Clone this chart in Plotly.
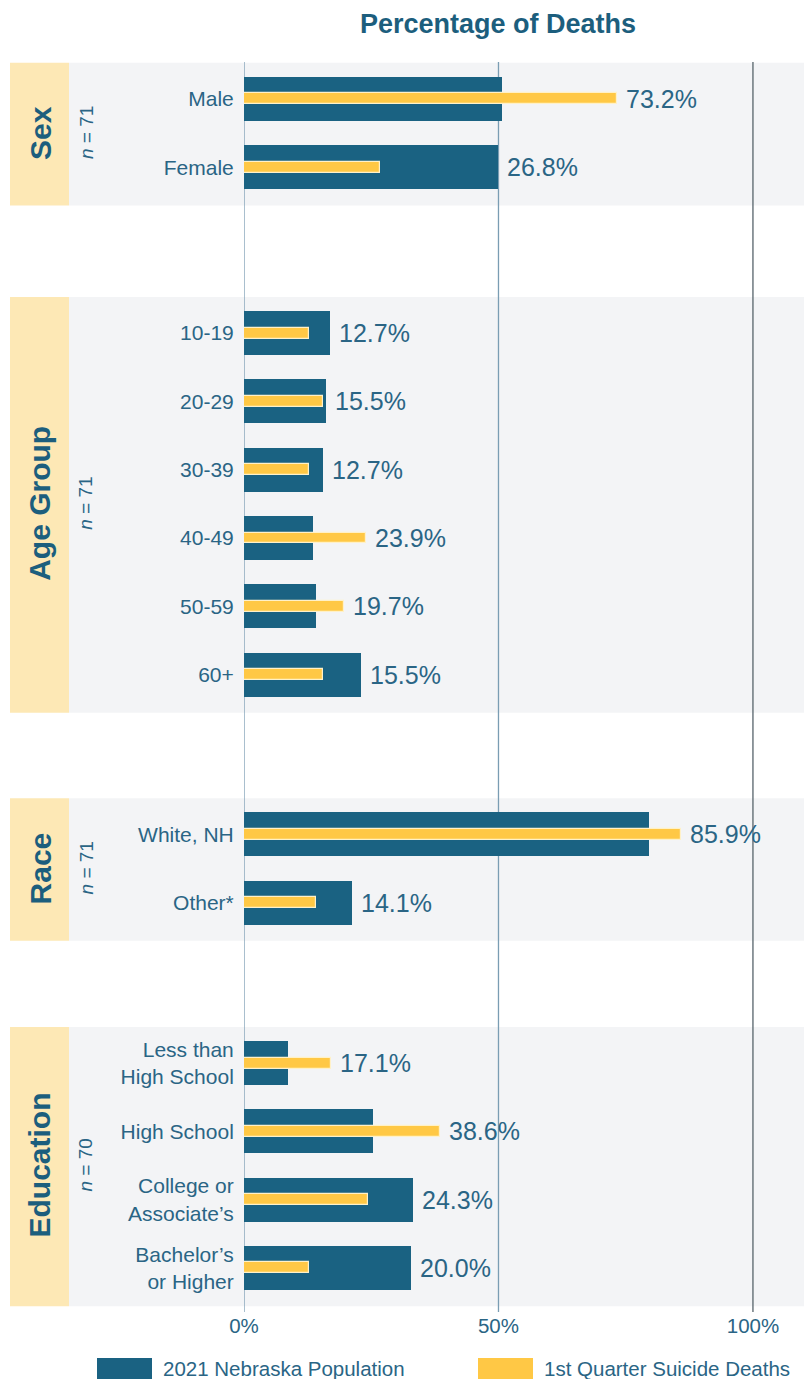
import plotly.graph_objects as go

# ---------------- data ----------------
groups = ["Sex", "Age Group", "Race", "Education"]
group_n = [71, 71, 71, 70]
categories = [
    ["Male", "Female"],
    ["10-19", "20-29", "30-39", "40-49", "50-59", "60+"],
    ["White, NH", "Other*"],
    ["Less than<br>High School", "High School", "College or<br>Associate’s", "Bachelor’s<br>or Higher"],
]
population = [
    [50.6, 49.9],
    [16.9, 16.1, 15.5, 13.6, 14.1, 23.0],
    [79.6, 21.2],
    [8.6, 25.3, 33.2, 32.8],
]
# bar lengths as drawn in the picture
deaths = [
    [73.2, 26.8],
    [12.7, 15.5, 12.7, 23.9, 19.7, 15.5],
    [85.9, 14.1],
    [17.1, 38.6, 24.3, 12.7],
]
# value labels as printed in the picture
death_labels = [
    ["73.2%", "26.8%"],
    ["12.7%", "15.5%", "12.7%", "23.9%", "19.7%", "15.5%"],
    ["85.9%", "14.1%"],
    ["17.1%", "38.6%", "24.3%", "20.0%"],
]
tick_values = [0, 50, 100]
tick_labels = ["0%", "50%", "100%"]
series_names = ["2021 Nebraska Population", "1st Quarter Suicide Deaths"]

# ---------------- style ----------------
DARK = "#1a6282"
YELLOW = "#FFC845"
YELLOW_EDGE = "#FFF1C8"
TEXT = "#2a6585"
TITLE = "#1c5e7d"
PANEL = "#F3F4F6"
LABEL_BOX = "#FDE8B5"
FONT = "Liberation Sans, Arial, sans-serif"

W, H = 804, 1379
PLOT_L, PLOT_R, PLOT_T, PLOT_B = 244, 804, 62, 1312
ML, MT = PLOT_L, PLOT_T
MR = W - PLOT_R
MB = H - PLOT_B
PW = PLOT_R - PLOT_L
PH = PLOT_B - PLOT_T
XMAX = 110.03
GAPS = [2.43, 2.34, 2.35]
PAD_TOP = 0.53
PAD_BOT = 0.56


def px_to_paper_x(px):
    return (px - ML) / PW


def px_to_paper_y(py):
    return (PLOT_B - py) / PH


# row positions from group structure
positions = []
pos = 0.0
for gi, cats in enumerate(categories):
    rows = [pos + i for i in range(len(cats))]
    positions.append(rows)
    if gi < len(GAPS):
        pos = rows[-1] + GAPS[gi]

y_all = [p for rows in positions for p in rows]
lab_all = [c for cats in categories for c in cats]
pop_all = [v for vals in population for v in vals]
dth_all = [v for vals in deaths for v in vals]
dlab_all = [t for vals in death_labels for t in vals]

fig = go.Figure()
fig.add_trace(go.Bar(
    x=pop_all, y=y_all, orientation="h", width=0.645,
    marker=dict(color=DARK, line=dict(width=0)),
    name=series_names[0], showlegend=False, hoverinfo="x",
))
fig.add_trace(go.Bar(
    x=dth_all, y=y_all, orientation="h", width=0.16,
    marker=dict(color=YELLOW, line=dict(color=YELLOW_EDGE, width=1.2)),
    name=series_names[1], showlegend=False, hoverinfo="x",
))

shapes = []
annotations = []

# panels
for gi, rows in enumerate(positions):
    y0 = rows[0] - PAD_TOP
    y1 = rows[-1] + PAD_BOT
    shapes.append(dict(type="rect", xref="paper", yref="y",
                       x0=px_to_paper_x(69), x1=1.0, y0=y0, y1=y1,
                       fillcolor=PANEL, line=dict(width=0), layer="below"))
    shapes.append(dict(type="rect", xref="paper", yref="y",
                       x0=px_to_paper_x(10), x1=px_to_paper_x(69), y0=y0, y1=y1,
                       fillcolor=LABEL_BOX, line=dict(width=0), layer="below"))
    ymid = (rows[0] + rows[-1]) / 2
    annotations.append(dict(xref="paper", yref="y", x=px_to_paper_x(40), y=ymid,
                            text=f"<b>{groups[gi]}</b>", textangle=-90, showarrow=False,
                            font=dict(family=FONT, size=30, color=TITLE),
                            xanchor="center", yanchor="middle"))
    annotations.append(dict(xref="paper", yref="y", x=px_to_paper_x(86), y=ymid,
                            text=f"<i>n</i> = {group_n[gi]}", textangle=-90, showarrow=False,
                            font=dict(family=FONT, size=19, color=TEXT),
                            xanchor="center", yanchor="middle"))

# gridlines
grid_colors = ["#7a9db3", "#7a9db3", "#56636b"]
for tv, gc in zip(tick_values, grid_colors):
    shapes.append(dict(type="line", xref="x", yref="paper", x0=tv, x1=tv, y0=0, y1=1,
                       line=dict(color=gc, width=1.3), layer="below"))

# value labels
for yv, pv, dv, dt in zip(y_all, pop_all, dth_all, dlab_all):
    annotations.append(dict(xref="x", yref="y", x=max(pv, dv), y=yv,
                            text=dt, showarrow=False, xanchor="left",
                            yanchor="middle", xshift=7,
                            font=dict(family=FONT, size=25, color=TEXT)))

# title
annotations.append(dict(xref="x", yref="paper", x=50, y=px_to_paper_y(24),
                        text="<b>Percentage of Deaths</b>", showarrow=False,
                        xanchor="center", yanchor="middle",
                        font=dict(family=FONT, size=27, color=TITLE)))

# manual legend
legend_items = [(series_names[0], DARK, 97), (series_names[1], YELLOW, 478)]
for name, col, lx in legend_items:
    shapes.append(dict(type="rect", xref="paper", yref="paper",
                       x0=px_to_paper_x(lx), x1=px_to_paper_x(lx + 55),
                       y0=px_to_paper_y(1358), y1=px_to_paper_y(1381),
                       fillcolor=col, line=dict(width=0)))
    annotations.append(dict(xref="paper", yref="paper", x=px_to_paper_x(lx + 64),
                            y=px_to_paper_y(1368), text=name, showarrow=False,
                            xanchor="left", yanchor="middle",
                            font=dict(family=FONT, size=20.5, color=TEXT)))

last = y_all[-1]
fig.update_layout(
    width=W, height=H,
    margin=dict(l=ML, r=MR, t=MT, b=MB, pad=0),
    paper_bgcolor="white", plot_bgcolor="rgba(0,0,0,0)",
    barmode="overlay", bargap=0,
    shapes=shapes, annotations=annotations,
    showlegend=False,
    xaxis=dict(range=[0, XMAX], tickvals=tick_values, ticktext=tick_labels,
               showgrid=False, zeroline=False, showline=False,
               ticks="", ticklabelstandoff=-1,
               tickfont=dict(family=FONT, size=20.5, color=TEXT), fixedrange=True),
    yaxis=dict(range=[last + 0.645, -0.54], tickvals=y_all, ticktext=lab_all,
               showgrid=False, zeroline=False, showline=False,
               ticks="outside", ticklen=5, tickcolor="rgba(0,0,0,0)",
               tickfont=dict(family=FONT, size=21, color=TEXT), fixedrange=True),
)

fig.write_html(
    "out.html",
    config={"displayModeBar": False},
    post_script="document.body.style.margin='0';document.body.style.overflow='hidden';",
)
